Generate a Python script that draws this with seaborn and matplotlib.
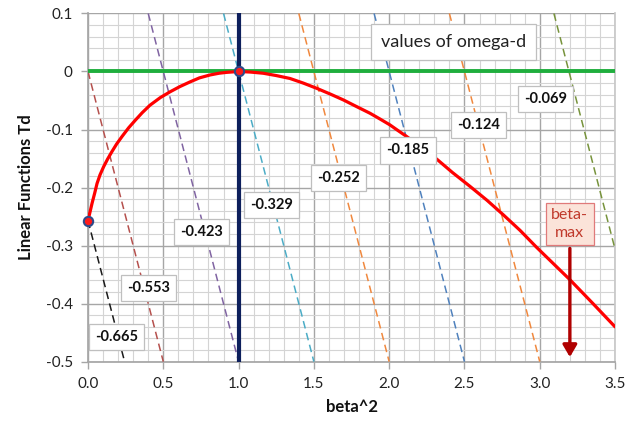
import numpy as np
import pandas as pd
import matplotlib
matplotlib.use("Agg")
import matplotlib.pyplot as plt
import seaborn as sns
from matplotlib.ticker import MultipleLocator

# ---------------- data ----------------
# red curve Td(beta^2)
curve_x = [0.0, 0.027, 0.045, 0.060, 0.080, 0.104, 0.130, 0.159, 0.190, 0.226, 0.270, 0.314,
           0.360, 0.412, 0.480, 0.545, 0.610, 0.677, 0.740, 0.810, 0.870, 0.920, 1.0,
           1.08, 1.164, 1.25, 1.341, 1.43, 1.519, 1.61, 1.696, 1.78, 1.873, 1.94, 2.005, 2.06,
           2.116, 2.21, 2.316, 2.42, 2.537, 2.65, 2.758, 2.87, 2.979, 3.09, 3.201, 3.35, 3.5]
curve_y = [-0.257, -0.227, -0.209, -0.193, -0.178, -0.164, -0.151, -0.138, -0.125, -0.112, -0.097, -0.084,
           -0.071, -0.058, -0.045, -0.035, -0.026, -0.018, -0.011, -0.006, -0.003, -0.0015, 0.0,
           -0.001, -0.003, -0.007, -0.012, -0.020, -0.029, -0.039, -0.049, -0.060, -0.072, -0.082, -0.092, -0.102,
           -0.112, -0.130, -0.151, -0.174, -0.198, -0.222, -0.247, -0.274, -0.303, -0.331, -0.359, -0.399, -0.440]

# dashed linear functions, one per omega-d value (start/end points)
omega_labels = ["-0.665", "-0.553", "-0.423", "-0.329", "-0.252", "-0.185", "-0.124", "-0.069"]
line_x0 = [0.0, 0.0, 0.4, 0.9, 1.4, 1.9, 2.4, 3.094]
line_y0 = [-0.257, 0.0, 0.1, 0.1, 0.1, 0.1, 0.1, 0.1]
line_x1 = [0.243, 0.5, 1.0, 1.5, 2.0, 2.5, 3.0, 3.5]
line_y1 = [-0.5, -0.5, -0.5, -0.5, -0.5, -0.5, -0.5, -0.306]
line_colors = ["#1a1a1a", "#b5504d", "#8064a2", "#4bacc6", "#f0883e", "#4f81bd", "#f0883e", "#77933c"]
# label box positions
label_x = [0.19, 0.40, 0.754, 1.22, 1.663, 2.125, 2.593, 3.038]
label_y = [-0.457, -0.373, -0.276, -0.230, -0.183, -0.136, -0.092, -0.047]

pts_x = [0.0, 1.0]
pts_y = [-0.257, 0.0]
beta_max = 3.2

# ---------------- plot ----------------
sns.set_theme(style="white")
plt.rcParams["font.family"] = ["Lato", "DejaVu Sans"]

fig = plt.figure(figsize=(6.4, 4.21), dpi=100)
ax = fig.add_axes([0.1375, 0.141, 0.961 - 0.1375, 0.968 - 0.141])

ax.set_xlim(0, 3.5)
ax.set_ylim(-0.5, 0.1)
ax.xaxis.set_major_locator(MultipleLocator(0.5))
ax.xaxis.set_minor_locator(MultipleLocator(0.1))
ax.yaxis.set_major_locator(MultipleLocator(0.1))
ax.yaxis.set_minor_locator(MultipleLocator(0.02))
ax.grid(which="major", color="#a6a6a6", lw=1.0, zorder=0)
ax.grid(which="minor", color="#d4d4d4", lw=0.8, zorder=0)
ax.set_axisbelow(True)
for s in ax.spines.values():
    s.set_visible(False)
ax.spines["left"].set_visible(True)
ax.spines["left"].set_color("#a6a6a6")
ax.spines["bottom"].set_visible(True)
ax.spines["bottom"].set_color("#a6a6a6")
ax.spines["right"].set_visible(True)
ax.spines["right"].set_color("#c8c8c8")
ax.tick_params(which="major", length=5, width=1, color="#a6a6a6", labelsize=11, pad=6,
               labelcolor="#222222", left=True, bottom=True)
ax.tick_params(which="minor", length=0)
ax.set_xticks([0, 0.5, 1.0, 1.5, 2.0, 2.5, 3.0, 3.5])
ax.set_xticklabels(["0.0", "0.5", "1.0", "1.5", "2.0", "2.5", "3.0", "3.5"])
ax.set_yticks([0.1, 0, -0.1, -0.2, -0.3, -0.4, -0.5])
ax.set_yticklabels(["0.1", "0", "-0.1", "-0.2", "-0.3", "-0.4", "-0.5"])

# dashed lines
for i in range(len(omega_labels)):
    df = pd.DataFrame({"x": [line_x0[i], line_x1[i]], "y": [line_y0[i], line_y1[i]]})
    sns.lineplot(data=df, x="x", y="y", ax=ax, color=line_colors[i], lw=1.1,
                 dashes=False, linestyle=(0, (5, 3)), zorder=3)

# green zero line and navy vertical line
ax.axhline(0, color="#1fae3d", lw=2.8, zorder=4)
ax.axvline(1.0, color="#0d1f5c", lw=3.0, zorder=5)

# red curve
dfc = pd.DataFrame({"x": curve_x, "y": curve_y})
sns.lineplot(data=dfc, x="x", y="y", ax=ax, color="#ff0000", lw=2.3, zorder=6, sort=False,
             solid_joinstyle="round", solid_capstyle="round")

# points
sns.scatterplot(x=pts_x, y=pts_y, ax=ax, s=45, color="#ff1a1a", edgecolor="#2e4a8a",
                linewidth=1.5, zorder=8, clip_on=False)

# labels
for lx, ly, t in zip(label_x, label_y, omega_labels):
    ax.text(lx, ly, t, ha="center", va="center", fontsize=10.5, fontweight="bold",
            color="#111111", zorder=9,
            bbox=dict(boxstyle="square,pad=0.42", fc="white", ec="#bfbfbf", lw=0.9))

ax.text(2.426, 0.051, "values of omega-d", ha="center", va="center", fontsize=13,
        color="#222222", zorder=9,
        bbox=dict(boxstyle="square,pad=0.55", fc="white", ec="#bfbfbf", lw=0.9))

# beta-max arrow
ax.annotate("", xy=(beta_max, -0.497), xytext=(beta_max, -0.30),
            arrowprops=dict(arrowstyle="-|>,head_width=0.35,head_length=0.6",
                            color="#b00000", lw=2.4), zorder=9)
ax.text(beta_max, -0.263, "beta-\nmax", ha="center", va="center", fontsize=11.5,
        color="#c0392b", linespacing=1.3, zorder=10,
        bbox=dict(boxstyle="square,pad=0.35", fc="#fbe3d9", ec="#e07a7a", lw=0.9))

ax.set_xlabel("beta^2", fontsize=12, fontweight="bold", color="#111111", labelpad=6)
ax.set_ylabel("Linear Functions Td", fontsize=12, fontweight="bold", color="#111111", labelpad=8)

fig.savefig("out.png", dpi=100)
